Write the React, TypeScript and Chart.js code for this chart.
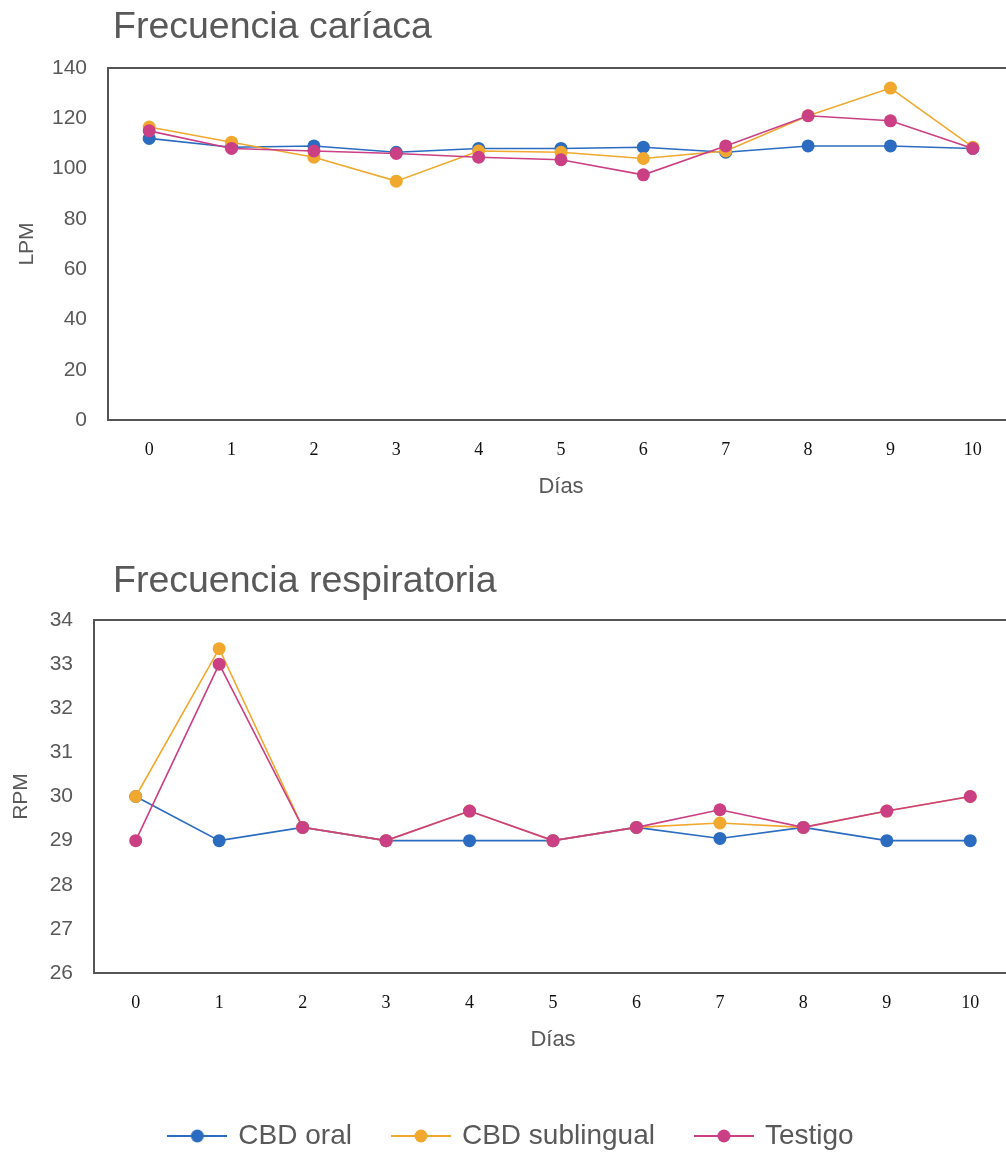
import React, { useEffect, useRef } from 'react';
import { Chart, registerables } from 'chart.js';

Chart.register(...registerables);

// ---------- data ----------
const dias = ['0', '1', '2', '3', '4', '5', '6', '7', '8', '9', '10'];
const seriesNames = ['CBD oral', 'CBD sublingual', 'Testigo'];
const seriesColors = ['#2b6cc0', '#f0a92e', '#cb3f84'];

const titleCardiaca = 'Frecuencia caríaca';
const titleRespiratoria = 'Frecuencia respiratoria';
const xTitle = 'Días';
const yTitleCardiaca = 'LPM';
const yTitleRespiratoria = 'RPM';

// Frecuencia cardiaca (LPM)
const fcOral = [112, 108.5, 109, 106.5, 108, 108, 108.5, 106.5, 109, 109, 108];
const fcSublingual = [116.5, 110.5, 104.5, 95, 107, 106.5, 104, 107, 121, 132, 108.5];
const fcTestigo = [115, 108, 107, 106, 104.5, 103.5, 97.5, 109, 121, 119, 108];
const fcAxis = { min: 0, max: 140, step: 20 };

// Frecuencia respiratoria (RPM)
const frOral = [30, 29, 29.3, 29, 29, 29, 29.3, 29.05, 29.3, 29, 29];
const frSublingual = [30, 33.35, 29.3, 29, 29.67, 29, 29.3, 29.4, 29.3, 29.67, 30];
const frTestigo = [29, 33, 29.3, 29, 29.67, 29, 29.3, 29.7, 29.3, 29.67, 30];
const frAxis = { min: 26, max: 34, step: 1 };

const SANS = '"Liberation Sans", Arial, sans-serif';
const SERIF = '"Liberation Serif", "Times New Roman", serif';
const GREY = '#595959';

function makeDatasets(values: number[][]) {
  return values.map((v, i) => ({
    label: seriesNames[i],
    data: v,
    borderColor: seriesColors[i],
    backgroundColor: seriesColors[i],
    pointBackgroundColor: seriesColors[i],
    pointBorderColor: seriesColors[i],
    pointBorderWidth: 0,
    pointRadius: 6.5,
    borderWidth: 1.6,
    tension: 0,
    order: 3 - i,
  }));
}

function framePlugin(title: string, titleY: number) {
  return {
    id: 'frameTitle',
    beforeDatasetsDraw(chart: any) {
      const { ctx, chartArea: a } = chart;
      ctx.save();
      ctx.strokeStyle = '#555555';
      ctx.lineWidth = 2;
      ctx.strokeRect(a.left, a.top, a.right - a.left, a.bottom - a.top);
      ctx.restore();
    },
    afterDraw(chart: any) {
      const { ctx } = chart;
      ctx.save();
      ctx.font = `37.5px ${SANS}`;
      ctx.fillStyle = GREY;
      ctx.textAlign = 'left';
      ctx.textBaseline = 'alphabetic';
      ctx.fillText(title, 113, titleY);
      ctx.restore();
    },
  };
}

function legendMarker(color: string) {
  const c = document.createElement('canvas');
  c.width = 60;
  c.height = 16;
  const g = c.getContext('2d')!;
  g.strokeStyle = color;
  g.lineWidth = 2;
  g.beginPath();
  g.moveTo(0, 8);
  g.lineTo(60, 8);
  g.stroke();
  g.fillStyle = color;
  g.beginPath();
  g.arc(30, 8, 6.5, 0, Math.PI * 2);
  g.fill();
  return c;
}

function buildConfig(opts: {
  values: number[][];
  axis: { min: number; max: number; step: number };
  yTitle: string;
  yTitlePad: number;
  yWidth: number;
  xHeight: number;
  xTitlePadBottom: number;
  padding: { top: number; right: number; bottom: number; left: number };
  title: string;
  titleY: number;
  legend: boolean;
}): any {
  return {
    type: 'line',
    data: { labels: dias, datasets: makeDatasets(opts.values) },
    options: {
      responsive: false,
      maintainAspectRatio: false,
      animation: false,
      events: [],
      layout: { padding: opts.padding },
      scales: {
        x: {
          type: 'category',
          offset: true,
          grid: { display: false, drawTicks: false },
          border: { display: false },
          ticks: {
            font: { family: SERIF, size: 18 },
            color: '#111111',
            padding: 19,
            maxRotation: 0,
            autoSkip: false,
          },
          title: {
            display: true,
            text: xTitle,
            font: { family: SANS, size: 22 },
            color: GREY,
            padding: { top: 0, bottom: opts.xTitlePadBottom },
          },
          afterFit: (s: any) => {
            s.height = opts.xHeight;
          },
        },
        y: {
          min: opts.axis.min,
          max: opts.axis.max,
          grid: { display: false, drawTicks: false },
          border: { display: false },
          ticks: {
            stepSize: opts.axis.step,
            font: { family: SANS, size: 21 },
            color: GREY,
            padding: 21,
          },
          title: {
            display: true,
            text: opts.yTitle,
            font: { family: SANS, size: 21 },
            color: GREY,
            padding: { top: opts.yTitlePad, bottom: 0 },
          },
          afterFit: (s: any) => {
            s.width = opts.yWidth;
          },
        },
      },
      plugins: {
        tooltip: { enabled: false },
        title: { display: false },
        legend: opts.legend
          ? {
              display: true,
              position: 'bottom',
              labels: {
                usePointStyle: true,
                pointStyleWidth: 54,
                padding: 42,
                color: GREY,
                font: { family: SANS, size: 28 },
                generateLabels: (chart: any) =>
                  chart.data.datasets.map((ds: any, i: number) => ({
                    text: ds.label,
                    fillStyle: ds.borderColor,
                    strokeStyle: ds.borderColor,
                    lineWidth: 0,
                    pointStyle: legendMarker(ds.borderColor),
                    datasetIndex: i,
                    hidden: false,
                    fontColor: GREY,
                  })),
              },
            }
          : { display: false },
      },
    },
    plugins: [framePlugin(opts.title, opts.titleY)],
  };
}

export default function App() {
  const topRef = useRef<HTMLCanvasElement | null>(null);
  const botRef = useRef<HTMLCanvasElement | null>(null);

  useEffect(() => {
    const top = new Chart(
      topRef.current!,
      buildConfig({
        values: [fcOral, fcSublingual, fcTestigo],
        axis: fcAxis,
        yTitle: yTitleCardiaca,
        yTitlePad: 15,
        yWidth: 108,
        xHeight: 100,
        xTitlePadBottom: 20,
        padding: { top: 68, right: 16, bottom: 0, left: 0 },
        title: titleCardiaca,
        titleY: 38,
        legend: false,
      })
    );
    const bottom = new Chart(
      botRef.current!,
      buildConfig({
        values: [frOral, frSublingual, frTestigo],
        axis: frAxis,
        yTitle: yTitleRespiratoria,
        yTitlePad: -3,
        yWidth: 82,
        xHeight: 107,
        xTitlePadBottom: 27,
        padding: { top: 80, right: 18, bottom: 0, left: 12 },
        title: titleRespiratoria,
        titleY: 52,
        legend: true,
      })
    );
    return () => {
      top.destroy();
      bottom.destroy();
    };
  }, []);

  return (
    <div
      style={{
        position: 'absolute',
        left: 0,
        top: 0,
        width: 1006,
        height: 1153,
        overflow: 'hidden',
        background: '#ffffff',
      }}
    >
      <canvas
        ref={topRef}
        width={1030}
        height={520}
        style={{ position: 'absolute', left: 0, top: 0, width: 1030, height: 520 }}
      />
      <canvas
        ref={botRef}
        width={1030}
        height={620}
        style={{ position: 'absolute', left: 0, top: 540, width: 1030, height: 620 }}
      />
    </div>
  );
}
